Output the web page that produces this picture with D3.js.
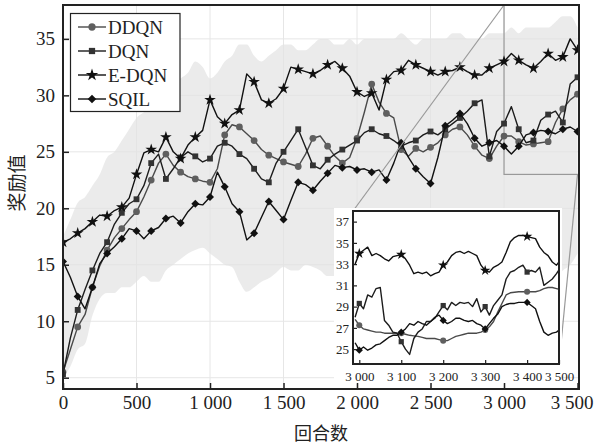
<!DOCTYPE html>
<html>
<head>
<meta charset="utf-8">
<script src="https://d3js.org/d3.v7.min.js"></script>
<title>奖励值曲线</title>
<style>
    body { margin: 0; background: #fff; }
    svg { display: block; font-family: "Liberation Serif", "Times New Roman", serif; }
    .cjk { font-family: "Noto Sans CJK SC", sans-serif; }
</style>
</head>
<body>
<svg id="chart" width="594" height="447"></svg>
<script>
    // episodes of the smoothed curves (main plot), every 50
    const episodes = d3.range(0, 3501, 50);

    const ddqn = [5.5, 7.5, 9.5, 10.6, 13.0, 14.9, 16.3, 17.4, 18.2, 19.0,
        19.7, 21.0, 22.5, 24.0, 24.8, 23.8, 23.2, 22.8, 22.6, 22.4,
        22.3, 23.5, 26.5, 27.4, 27.2, 26.6, 26.0, 25.2, 24.7, 24.4,
        24.1, 23.9, 23.7, 24.8, 26.2, 26.4, 25.5, 24.6, 24.0, 24.5,
        26.2, 28.5, 31.0, 29.4, 28.4, 28.0, 25.2, 24.6, 25.3, 25.0,
        25.4, 25.8, 26.5, 27.0, 27.2, 26.5, 25.5, 24.7, 24.4, 25.5,
        26.4, 26.4, 25.9, 25.6, 25.7, 25.8, 25.9, 27.6, 28.8, 29.6,
        30.1];
    const dqn = [5.3, 8.5, 11.0, 12.8, 14.5, 16.0, 17.0, 18.6, 19.6, 20.4,
        20.8, 22.0, 24.0, 24.8, 22.6, 23.5, 24.5, 25.0, 24.6, 24.1,
        24.4, 25.5, 25.8, 25.5, 24.8, 24.4, 23.5, 22.6, 22.3, 24.0,
        25.0, 26.0, 27.0, 25.4, 23.8, 23.5, 24.3, 24.8, 25.2, 25.6,
        26.0, 26.7, 27.0, 26.6, 26.4, 26.0, 25.5, 25.8, 26.0, 26.5,
        26.8, 26.5, 27.0, 27.5, 28.0, 28.6, 29.3, 29.6, 24.6, 26.8,
        27.5, 29.0, 27.0, 25.8, 26.0, 27.8, 28.3, 28.6, 27.6, 31.0,
        31.6];
    const edqn = [17.0, 17.3, 17.8, 18.2, 18.8, 19.4, 19.3, 19.8, 20.1, 20.9,
        23.0, 24.9, 25.2, 25.0, 26.3, 25.0, 24.4, 25.6, 26.3, 26.9,
        29.6, 28.1, 27.5, 28.3, 28.7, 31.9, 31.2, 29.6, 29.3, 29.7,
        30.6, 32.5, 32.3, 32.1, 31.9, 32.2, 32.7, 33.0, 32.4, 31.7,
        30.3, 29.9, 30.2, 28.7, 31.4, 32.1, 32.2, 33.1, 32.7, 32.4,
        32.1, 31.8, 32.1, 32.2, 32.5, 32.1, 31.8, 31.8, 32.4, 32.7,
        33.0, 33.7, 33.1, 32.7, 32.4, 33.0, 33.7, 33.1, 33.4, 35.0,
        34.0];
    const sqil = [15.3, 13.9, 12.2, 11.1, 13.0, 15.1, 16.0, 16.6, 17.3, 18.2,
        18.0, 17.3, 18.0, 18.3, 19.1, 19.3, 18.7, 19.7, 20.4, 20.3,
        21.0, 23.2, 21.9, 20.4, 19.7, 17.2, 17.8, 19.2, 20.6, 19.8,
        19.0, 20.7, 22.3, 22.1, 21.6, 22.4, 23.1, 23.8, 23.6, 23.7,
        23.4, 23.5, 23.2, 23.4, 22.5, 24.0, 25.8, 24.5, 23.5, 22.8,
        22.2, 24.5, 27.3, 27.8, 28.4, 27.5, 26.2, 25.5, 25.8, 26.0,
        25.5, 24.8, 25.5, 26.5, 26.7, 26.9, 26.8, 26.6, 27.0, 27.2,
        26.8];

    // spread of the raw (unsmoothed) rewards behind the curves
    const noiseHigh = [17.5, 19, 20.5, 21, 22, 23, 24.5, 25, 26, 27,
        28, 28.5, 29, 29.5, 30, 31, 31.5, 32, 33, 32.5,
        31.5, 32, 33, 33.5, 34.5, 34.5, 33.5, 33, 33.5, 34,
        34.5, 34.5, 34, 34, 34.5, 35, 35, 34.5, 34.5, 35,
        34.5, 35, 35, 35, 35, 35, 35.5, 35, 34.5, 35,
        35, 35, 35, 35.5, 35.5, 35, 35, 35, 35.5, 35.5,
        35.5, 36, 35.5, 36, 36, 36, 36, 36.5, 37, 37,
        36];
    const noiseLow = [5, 6, 7.5, 8, 10.5, 12, 12.5, 12.5, 13, 13,
        13.5, 14, 13.5, 13.5, 14.5, 15, 15.5, 16, 16.3, 16.5,
        16, 15.5, 15, 14.8, 13.5, 12.6, 13, 13.5, 13.8, 14.3,
        14.8, 14.5, 14.5, 15, 14.8, 14.5, 14, 14, 13.8, 13.5,
        13.5, 13.5, 13.5, 13, 13, 13, 13, 13.5, 13.5, 13.5,
        14, 14, 14, 14, 14, 14, 14, 13.5, 13, 12.5,
        12.5, 12.5, 13, 13, 13, 13.5, 13.5, 14, 14.5, 15,
        16];

    // zoomed detail 3000-3500, every 10
    const insetEpisodes = d3.range(2990, 3481, 10);
    const ddqnInset = [27.8, 27.25, 26.9, 26.8, 26.7, 26.6, 26.6, 26.5, 26.5, 26.5,
        26.5, 26.5, 26.4, 26.3, 26.25, 26.2, 26.1, 26.0, 26.0, 26.0,
        25.9, 25.8, 25.8, 26.0, 26.2, 26.3, 26.4, 26.5, 26.5, 26.5,
        26.6, 26.8, 27.1, 27.6, 28.5, 29.3, 30.1, 30.3, 30.35, 30.4,
        30.4, 30.4, 30.4, 30.4, 30.5, 30.7, 30.8, 30.8, 30.7, 30.6];
    const dqnInset = [28.0, 29.3, 28.8, 30.1, 29.9, 30.7, 30.8, 27.7, 27.25, 26.6,
        26.5, 25.7, 25.0, 24.5, 26.0, 26.6, 26.9, 27.6, 27.6, 27.9,
        28.5, 29.1, 28.7, 29.4, 29.1, 29.4, 29.3, 29.4, 29.0, 29.75,
        28.5, 29.0, 28.2, 29.1, 29.6, 30.1, 31.6, 32.25, 32.4, 32.7,
        32.9, 32.25, 32.4, 32.25, 32.7, 31.0, 31.3, 31.6, 32.1, 32.7];
    const edqnInset = [33.0, 34.0, 34.3, 34.6, 33.8, 34.0, 33.8, 33.5, 33.3, 33.7,
        33.8, 33.9, 33.5, 32.9, 32.1, 32.25, 32.1, 32.25, 31.9, 32.1,
        32.25, 32.9, 33.2, 33.8, 34.1, 34.2, 34.0, 34.2, 34.0, 33.8,
        32.9, 32.4, 32.25, 32.7, 32.9, 33.2, 34.1, 35.1, 35.5, 35.7,
        35.7, 35.6, 35.5, 35.4, 34.6, 34.1, 33.8, 33.2, 32.9, 33.4];
    const sqilInset = [25.6, 24.9, 25.2, 24.9, 25.1, 25.4, 25.5, 25.8, 26.1, 26.3,
        26.3, 26.6, 26.9, 27.4, 27.25, 27.6, 27.4, 27.25, 27.6, 28.0,
        28.2, 27.7, 27.4, 27.6, 27.9, 27.9, 27.7, 27.6, 27.7, 27.4,
        27.25, 26.9, 27.4, 27.9, 28.3, 29.0, 29.2, 29.3, 29.3, 29.4,
        29.4, 29.4, 29.1, 28.8, 27.6, 26.6, 26.3, 26.5, 26.6, 26.9];

    const xTicks = [0, 500, 1000, 1500, 2000, 2500, 3000, 3500];
    const yTicks = [5, 10, 15, 20, 25, 30, 35];
    const insetXTicks = [3000, 3100, 3200, 3300, 3400];
    const insetYTicks = [25, 27, 29, 31, 33, 35, 37];
    const insetMarks = [3000, 3100, 3200, 3300, 3400];

    const series = [
        { name: "DDQN", main: ddqn, inset: ddqnInset, symbol: d3.symbolCircle, size: 36, rotate: 0, line: "#4a4a4a", mark: "#5f5f5f" },
        { name: "DQN", main: dqn, inset: dqnInset, symbol: d3.symbolSquare, size: 34, rotate: 0, line: "#1c1c1c", mark: "#333" },
        { name: "E-DQN", main: edqn, inset: edqnInset, symbol: d3.symbolStar, size: 42, rotate: 0, line: "#111", mark: "#111" },
        { name: "SQIL", main: sqil, inset: sqilInset, symbol: d3.symbolSquare, size: 32, rotate: 45, line: "#111", mark: "#111" }
    ];

    const fmt = d3.formatLocale({ decimal: ".", thousands: " ", grouping: [3], currency: ["", ""] }).format(",");

    const svg = d3.select("#chart");
    const plot = { left: 63, right: 579, top: 5, bottom: 389 };
    const box = { left: 353, right: 559, top: 211, bottom: 364 };

    const x = d3.scaleLinear().domain([0, 3510]).range([plot.left, plot.right]);
    const y = d3.scaleLinear().domain([4, 38]).range([plot.bottom, plot.top]);
    const xi = d3.scaleLinear().domain([2985, 3476]).range([box.left, box.right]);
    const yi = d3.scaleLinear().domain([23.6, 38]).range([box.bottom, box.top]);

    svg.append("rect").attr("width", 594).attr("height", 447).attr("fill", "#fff");

    const defs = svg.append("defs");
    defs.append("clipPath").attr("id", "clip-main").append("rect")
        .attr("x", plot.left).attr("y", plot.top)
        .attr("width", plot.right - plot.left).attr("height", plot.bottom - plot.top);
    defs.append("clipPath").attr("id", "clip-inset").append("rect")
        .attr("x", box.left).attr("y", box.top)
        .attr("width", box.right - box.left).attr("height", box.bottom - box.top);

    // grid
    const grid = svg.append("g").attr("stroke", "#e6e6e6").attr("stroke-width", 1);
    grid.selectAll(".gx").data(xTicks.slice(1, -1)).enter().append("line")
        .attr("x1", d => x(d)).attr("x2", d => x(d))
        .attr("y1", plot.top).attr("y2", plot.bottom);
    grid.selectAll(".gy").data(yTicks).enter().append("line")
        .attr("x1", plot.left).attr("x2", plot.right)
        .attr("y1", d => y(d)).attr("y2", d => y(d));

    // raw reward spread
    svg.append("path")
        .datum(noiseHigh)
        .attr("clip-path", "url(#clip-main)")
        .attr("fill", "#e2e2e2").attr("fill-opacity", 0.7)
        .attr("d", d3.area()
            .x((d, i) => x(episodes[i]))
            .y0((d, i) => y(noiseLow[i]))
            .y1(d => y(d))
            .curve(d3.curveMonotoneX));

    // zoom region
    svg.append("rect")
        .attr("x", x(3000)).attr("y", y(38))
        .attr("width", plot.right - x(3000)).attr("height", y(23) - y(38))
        .attr("fill", "none").attr("stroke", "#999").attr("stroke-width", 1.2);

    function drawSeries(g, s, values, xs, sx, sy, marks, scale) {
        g.append("path")
            .datum(values)
            .attr("fill", "none").attr("stroke", s.line).attr("stroke-width", 1.4)
            .attr("stroke-linejoin", "round")
            .attr("d", d3.line().x((d, i) => sx(xs[i])).y(d => sy(d)));
        g.selectAll(null)
            .data(values.map((v, i) => [xs[i], v]).filter(d => marks(d[0])))
            .enter().append("path")
            .attr("d", d3.symbol().type(s.symbol).size(s.size * scale))
            .attr("transform", d => `translate(${sx(d[0])},${sy(d[1])}) rotate(${s.rotate})`)
            .attr("fill", s.mark);
    }

    const lines = svg.append("g").attr("clip-path", "url(#clip-main)");
    series.forEach(s => drawSeries(lines, s, s.main, episodes, x, y, e => e % 100 === 0, 1));

    // connectors
    svg.append("g").attr("stroke", "#999").attr("stroke-width", 1.2)
        .selectAll("line")
        .data([[x(3000), y(38), box.left, box.top], [x(3500), y(23), box.right, box.bottom]])
        .enter().append("line")
        .attr("x1", d => d[0]).attr("y1", d => d[1])
        .attr("x2", d => d[2]).attr("y2", d => d[3]);

    // inset
    const ins = svg.append("g");
    ins.append("rect")
        .attr("x", 334).attr("y", 208).attr("width", 228).attr("height", 176)
        .attr("fill", "#fff");
    const insLines = ins.append("g").attr("clip-path", "url(#clip-inset)");
    series.forEach(s => drawSeries(insLines, s, s.inset, insetEpisodes, xi, yi, e => insetMarks.includes(e), 0.8));

    const ixAxis = ins.append("g")
        .attr("transform", `translate(0,${box.bottom})`)
        .call(d3.axisBottom(xi)
            .tickValues(insetXTicks.concat([xi.domain()[1]]))
            .tickFormat((d, i) => i === insetXTicks.length ? fmt(3500) : fmt(d))
            .tickSize(-4).tickPadding(8));
    const iyAxis = ins.append("g")
        .attr("transform", `translate(${box.left},0)`)
        .call(d3.axisLeft(yi).tickValues(insetYTicks).tickSize(-4).tickPadding(4));
    [ixAxis, iyAxis].forEach(a => {
        a.select(".domain").remove();
        a.selectAll("line").attr("stroke", "#222").attr("stroke-width", 1.2);
        a.selectAll("text").attr("font-size", 13).attr("fill", "#222")
            .attr("font-family", "Liberation Serif, serif");
    });
    ins.append("rect")
        .attr("x", box.left).attr("y", box.top)
        .attr("width", box.right - box.left).attr("height", box.bottom - box.top)
        .attr("fill", "none").attr("stroke", "#222").attr("stroke-width", 2);

    // legend
    const legend = svg.append("g");
    legend.append("rect")
        .attr("x", 70.5).attr("y", 13.5).attr("width", 109.5).attr("height", 98)
        .attr("fill", "#fff").attr("stroke", "#222").attr("stroke-width", 1.2);
    const item = legend.selectAll(".item").data(series).enter().append("g")
        .attr("transform", (d, i) => `translate(0,${27 + i * 24})`);
    item.append("line")
        .attr("x1", 78).attr("x2", 106)
        .attr("stroke", d => d.line).attr("stroke-width", 1.4);
    item.append("path")
        .attr("d", d => d3.symbol().type(d.symbol).size(d.size * 1.15)())
        .attr("transform", d => `translate(92,0) rotate(${d.rotate})`)
        .attr("fill", d => d.mark);
    item.append("text")
        .attr("x", 108).attr("dy", "0.35em")
        .attr("font-size", 19).attr("fill", "#222")
        .text(d => d.name);

    // main axes
    const xAxis = svg.append("g")
        .attr("transform", `translate(0,${plot.bottom})`)
        .call(d3.axisBottom(x).tickValues(xTicks).tickFormat(fmt).tickSize(-6).tickPadding(7));
    const yAxis = svg.append("g")
        .attr("transform", `translate(${plot.left},0)`)
        .call(d3.axisLeft(y).tickValues(yTicks).tickSize(-6).tickPadding(8));
    [xAxis, yAxis].forEach(a => {
        a.select(".domain").remove();
        a.selectAll("line").attr("stroke", "#222").attr("stroke-width", 1.5);
        a.selectAll("text").attr("font-size", 19).attr("fill", "#222")
            .attr("font-family", "Liberation Serif, serif");
    });
    // keep the last label inside the picture
    xAxis.selectAll(".tick text").filter(d => d === 3500).attr("dx", -6);
    svg.append("rect")
        .attr("x", plot.left).attr("y", plot.top)
        .attr("width", plot.right - plot.left).attr("height", plot.bottom - plot.top)
        .attr("fill", "none").attr("stroke", "#222").attr("stroke-width", 2);

    svg.append("text").attr("class", "cjk")
        .attr("x", (plot.left + plot.right) / 2).attr("y", 440)
        .attr("text-anchor", "middle").attr("font-size", 18).attr("fill", "#222")
        .text("回合数");
    svg.append("text").attr("class", "cjk")
        .attr("transform", "translate(24,183) rotate(-90)")
        .attr("text-anchor", "middle").attr("font-size", 19).attr("fill", "#222")
        .text("奖励值");
</script>
</body>
</html>
